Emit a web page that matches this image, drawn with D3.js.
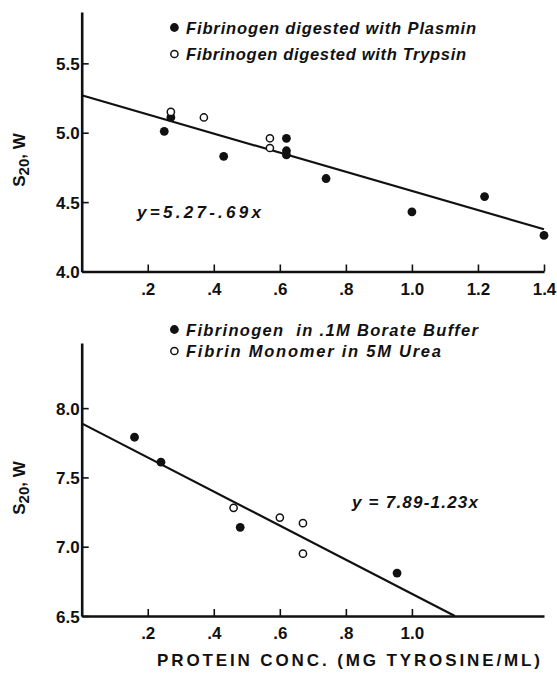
<!DOCTYPE html>
<html>
<head>
<meta charset="utf-8">
<script src="https://cdn.jsdelivr.net/npm/d3@7"></script>
<style>
  body { margin: 0; background: #fff; }
  svg { display: block; }
  .tick text { font-family: "Liberation Sans", Arial, sans-serif; font-weight: bold; font-size: 17px; fill: #111; }
  .legend, .eq { font-family: "Liberation Sans", Arial, sans-serif; font-weight: bold; font-style: italic; font-size: 16.5px; fill: #111; white-space: pre; }
  .eq { font-size: 17px; }
  .ytitle, .xtitle { font-family: "Liberation Sans", Arial, sans-serif; font-weight: bold; font-size: 17px; fill: #111; }
</style>
</head>
<body>
<div id="chart"></div>
<script>
// ===========Data
// top panel: fibrinogen digests
var plasminX = [0.25, 0.27, 0.43, 0.62, 0.62, 0.62, 0.74, 1.00, 1.22, 1.40];
var plasminY = [5.01, 5.11, 4.83, 4.96, 4.87, 4.84, 4.67, 4.43, 4.54, 4.26];
var trypsinX = [0.27, 0.37, 0.57, 0.57];
var trypsinY = [5.15, 5.11, 4.96, 4.89];

// bottom panel
var borateX = [0.16, 0.24, 0.48, 0.955];
var borateY = [7.79, 7.61, 7.14, 6.81];
var ureaX = [0.46, 0.60, 0.67, 0.67];
var ureaY = [7.28, 7.21, 7.17, 6.95];

// fitted lines y = a + b x
var topFit = { a: 5.27, b: -0.69 };
var bottomFit = { a: 7.89, b: -1.23 };

var topXTicks = [0.2, 0.4, 0.6, 0.8, 1.0, 1.2, 1.4];
var topYTicks = [4.0, 4.5, 5.0, 5.5];
var bottomXTicks = [0.2, 0.4, 0.6, 0.8, 1.0];
var bottomYTicks = [6.5, 7.0, 7.5, 8.0];

var topLegend = ["Fibrinogen digested with Plasmin", "Fibrinogen digested with Trypsin"];
var bottomLegend = ["Fibrinogen  in .1M Borate Buffer", "Fibrin Monomer in 5M Urea"];
var topEquation = "y=5.27-.69x";
var bottomEquation = "y = 7.89-1.23x";
var xTitle = "PROTEIN CONC. (MG TYROSINE/ML)";

// ===========SVG container
var svgWidth = 557;
var svgHeight = 673;

var svg = d3.select("#chart").append("svg")
    .attr("width", svgWidth)
    .attr("height", svgHeight);

// x tick format: ".2", ".4", "1.0"
function xFmt(d) {
    var s = d3.format(".1f")(d);
    return s.charAt(0) === "0" ? s.slice(1) : s;
}

function drawPanel(opt) {
    var x = d3.scaleLinear().domain([0, 1.4]).range([81.7, 544]);
    var y = d3.scaleLinear().domain(opt.yDomain).range(opt.yRange);

    var g = svg.append("g");

    // ==========Axes (inward ticks)
    var xAxis = d3.axisBottom(x)
        .tickValues(opt.xTicks)
        .tickFormat(xFmt)
        .tickSizeInner(-7)
        .tickSizeOuter(0)
        .tickPadding(11);

    var yAxis = d3.axisLeft(y)
        .tickValues(opt.yTicks)
        .tickFormat(d3.format(".1f"))
        .tickSizeInner(-7)
        .tickSizeOuter(0)
        .tickPadding(2);

    var xg = g.append("g")
        .attr("transform", `translate(0, ${y(opt.yDomain[0])})`)
        .call(xAxis);
    var yg = g.append("g")
        .attr("transform", `translate(${x(0)}, 0)`)
        .call(yAxis);

    [xg, yg].forEach(function(a) {
        a.select(".domain").attr("stroke", "#111").attr("stroke-width", 2.6);
        a.selectAll(".tick line").attr("stroke", "#111").attr("stroke-width", 1.6);
    });
    yg.selectAll(".tick text").attr("dy", "0.36em");

    // ==========Fitted line
    var x1 = opt.lineEnd;
    g.append("line")
        .attr("x1", x(0))
        .attr("y1", y(opt.fit.a))
        .attr("x2", x(x1))
        .attr("y2", y(opt.fit.a + opt.fit.b * x1))
        .attr("stroke", "#111")
        .attr("stroke-width", 2.2);

    // ==========Points
    g.selectAll("circle.filled")
        .data(d3.zip(opt.filledX, opt.filledY))
        .enter()
        .append("circle")
        .attr("class", "filled")
        .attr("cx", d => x(d[0]))
        .attr("cy", d => y(d[1]))
        .attr("r", 4.4)
        .attr("fill", "#111");

    g.selectAll("circle.open")
        .data(d3.zip(opt.openX, opt.openY))
        .enter()
        .append("circle")
        .attr("class", "open")
        .attr("cx", d => x(d[0]))
        .attr("cy", d => y(d[1]))
        .attr("r", 3.6)
        .attr("fill", "#fff")
        .attr("stroke", "#111")
        .attr("stroke-width", 1.5);

    // ==========Legend
    var lg = g.append("g");
    opt.legend.forEach(function(label, i) {
        var cy = opt.legendY[i];
        lg.append("circle")
            .attr("cx", 174.4)
            .attr("cy", cy)
            .attr("r", i === 0 ? 4.4 : 3.6)
            .attr("fill", i === 0 ? "#111" : "#fff")
            .attr("stroke", "#111")
            .attr("stroke-width", i === 0 ? 0 : 1.5);
        lg.append("text")
            .attr("class", "legend")
            .attr("x", 186)
            .attr("y", cy + 6)
            .attr("textLength", opt.legendW[i])
            .attr("lengthAdjust", "spacing")
            .text(label);
    });

    // ==========Equation
    g.append("text")
        .attr("class", "eq")
        .attr("x", opt.eqX)
        .attr("y", opt.eqY)
        .attr("textLength", opt.eqW)
        .attr("lengthAdjust", "spacing")
        .text(opt.equation);

    // ==========Y title  S20, W
    var yt = g.append("text")
        .attr("class", "ytitle")
        .attr("transform", `translate(25, ${opt.yTitleY}) rotate(-90)`)
        .attr("text-anchor", "middle");
    yt.append("tspan").text("S");
    yt.append("tspan").attr("dy", 4).attr("font-size", "15px").text("20");
    yt.append("tspan").attr("dy", -4).text(", W");

    return { x: x, y: y };
}

drawPanel({
    yDomain: [4.0, 5.87],
    yRange: [271.5, 12],
    xTicks: topXTicks,
    yTicks: topYTicks,
    fit: topFit,
    lineEnd: 1.4,
    filledX: plasminX, filledY: plasminY,
    openX: trypsinX, openY: trypsinY,
    legend: topLegend,
    legendY: [27.5, 54],
    legendW: [290, 280],
    equation: topEquation,
    eqX: 137, eqY: 218, eqW: 124,
    yTitleY: 160
});

drawPanel({
    yDomain: [6.5, 8.47],
    yRange: [616, 343],
    xTicks: bottomXTicks,
    yTicks: bottomYTicks,
    fit: bottomFit,
    lineEnd: (bottomFit.a - 6.5) / -bottomFit.b,
    filledX: borateX, filledY: borateY,
    openX: ureaX, openY: ureaY,
    legend: bottomLegend,
    legendY: [329.5, 351],
    legendW: [292, 255],
    equation: bottomEquation,
    eqX: 352, eqY: 508, eqW: 126,
    yTitleY: 488
});

// ==========X title
svg.append("text")
    .attr("class", "xtitle")
    .attr("x", 157)
    .attr("y", 666)
    .attr("textLength", 383)
    .attr("lengthAdjust", "spacing")
    .text(xTitle);
</script>
</body>
</html>
